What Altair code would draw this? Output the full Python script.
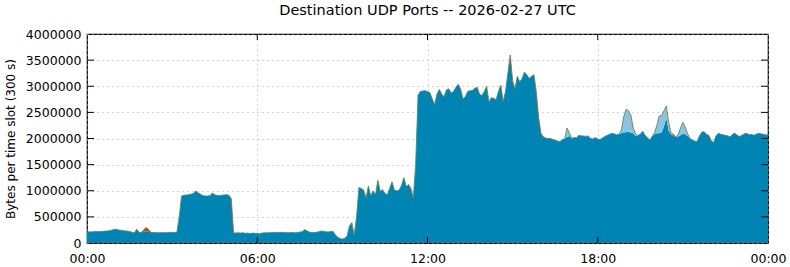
import altair as alt
import pandas as pd

# Main UDP port series (thousands of bytes per 5-minute slot), one row per hour
blue_k = [
    210, 215, 212, 218, 220, 222, 220, 225, 228, 232, 240, 255,
    265, 255, 245, 240, 232, 228, 222, 205, 190, 262, 205, 200,
    215, 218, 215, 205, 200, 200, 195, 198, 200, 195, 200, 205,
    200, 205, 200, 500, 900, 915, 920, 925, 935, 950, 995, 960,
    935, 905, 900, 900, 905, 955, 925, 910, 910, 915, 920, 925,
    915, 850, 195, 190, 195, 190, 195, 185, 190, 180, 190, 185,
    185, 175, 190, 195, 195, 195, 200, 200, 205, 200, 205, 200,
    200, 195, 200, 200, 195, 200, 210, 215, 255, 235, 210, 200,
    200, 205, 215, 230, 225, 215, 210, 220, 225, 160, 110, 85,
    75, 90, 130, 330, 360, 150, 500, 1060, 1045, 1014, 860, 1090,
    900, 1000, 920, 1200, 990, 1020, 950, 920, 1050, 1170, 1010, 1000,
    1010, 1100, 1250, 1080, 1120, 1040, 860, 1500, 2830, 2900, 2910, 2915,
    2900, 2880, 2760, 2650, 2850, 2940, 2850, 2800, 2930, 2950, 2870, 2900,
    2980, 3040, 2950, 2760, 2800, 2900, 2915, 2920, 2960, 2980, 2850, 2820,
    2900, 3000, 2700, 2780, 2770, 2740, 2900, 3020, 2710, 2900, 3250, 3600,
    3100, 2950, 3190, 3080, 3150, 3270, 3220, 3150, 3190, 3220, 2900, 2400,
    2100, 2030, 2010, 2000, 2000, 1980, 1970, 1950, 1940, 1980, 1990, 2030,
    2050, 2000, 2020, 2010, 2060, 2050, 2050, 2040, 2050, 2000, 1990, 2020,
    1990, 1980, 2010, 2040, 2060, 2080, 2100, 2090, 2070, 2080, 2100, 2120,
    2120, 2130, 2110, 2100, 2050, 2060, 2080, 2140, 2060, 2020, 1970, 2040,
    2080, 2100, 2100, 2110, 2230, 2390, 2150, 2080, 2050, 2030, 2040, 2060,
    2090, 2080, 2050, 2000, 1970, 1950, 1940, 2050, 2120, 2130, 2080, 2060,
    1960, 1920, 2050, 2100, 2080, 2070, 2060, 2050, 2030, 2080, 2100, 2060,
    2040, 2060, 2090, 2100, 2070, 2080, 2060, 2080, 2100, 2090, 2080, 2070,
    2070,
]

# Second port (light blue), thousands
lightblue_k = [
    0, 0, 0, 0, 0, 0, 0, 0, 0, 0, 0, 0,
    0, 0, 0, 0, 0, 0, 0, 0, 0, 0, 0, 0,
    0, 0, 0, 0, 0, 0, 0, 0, 0, 0, 0, 0,
    0, 0, 0, 0, 0, 0, 0, 0, 0, 0, 0, 0,
    0, 0, 0, 0, 0, 0, 0, 0, 0, 0, 0, 0,
    0, 0, 0, 0, 0, 0, 0, 0, 0, 0, 0, 0,
    0, 0, 0, 0, 0, 0, 0, 0, 0, 0, 0, 0,
    0, 0, 0, 0, 0, 0, 0, 0, 0, 0, 0, 0,
    0, 0, 0, 0, 0, 0, 0, 0, 0, 0, 0, 0,
    0, 0, 0, 0, 0, 0, 0, 0, 0, 0, 0, 0,
    0, 0, 0, 0, 0, 0, 0, 0, 0, 0, 0, 0,
    0, 0, 0, 0, 0, 0, 0, 0, 0, 0, 0, 0,
    0, 0, 0, 0, 0, 0, 0, 0, 0, 0, 0, 0,
    0, 0, 0, 0, 0, 0, 0, 0, 0, 0, 0, 0,
    0, 0, 0, 0, 0, 0, 0, 0, 0, 0, 0, 0,
    0, 0, 0, 0, 0, 0, 0, 0, 0, 0, 0, 0,
    0, 0, 0, 0, 0, 0, 0, 0, 0, 0, 0, 170,
    60, 0, 0, 0, 0, 0, 0, 0, 0, 0, 0, 0,
    0, 0, 0, 0, 0, 0, 0, 0, 0, 0, 60, 300,
    440, 400, 340, 100, 40, 0, 0, 0, 0, 0, 0, 0,
    30, 150, 330, 330, 300, 230, 150, 30, 0, 0, 40, 140,
    220, 140, 40, 0, 0, 0, 0, 0, 0, 0, 0, 0,
    0, 0, 0, 0, 0, 0, 0, 0, 0, 0, 0, 0,
    0, 0, 0, 0, 0, 0, 0, 0, 0, 0, 0, 0,
    0,
]

# Third port (red), thousands: only a few visible bumps
red_slots = [24, 25, 26, 112, 248]
red_vals_k = [40, 80, 45, 30, 30]

series_names = ["Port A", "Port B", "Port C"]
series_colors = ["#0084b4", "#8cc4e0", "#c8401a"]

x_tick_values = [0, 6, 12, 18, 24]
x_tick_labels = ["00:00", "06:00", "12:00", "18:00", "00:00"]
y_tick_values = [0, 500000, 1000000, 1500000, 2000000, 2500000, 3000000, 3500000, 4000000]

title_text = "Destination UDP Ports -- 2026-02-27 UTC"
y_title = "Bytes per time slot (300 s)"

n = len(blue_k)
red_k = [0] * n
for s, v in zip(red_slots, red_vals_k):
    red_k[s] = v

rows = []
tot = []
for i in range(n):
    h = i * 5 / 60.0
    vals = [blue_k[i], lightblue_k[i], red_k[i]]
    for j, name in enumerate(series_names):
        rows.append({"hour": h, "series": name, "order": j, "bytes": vals[j] * 1000})
    tot.append({"hour": h, "total": sum(vals) * 1000})
df = pd.DataFrame(rows)
dft = pd.DataFrame(tot)

W, H = 681, 209
xscale = alt.Scale(domain=[0, 24], nice=False, zero=False)
yscale = alt.Scale(domain=[0, 4000000], nice=False)

label_arr = "[" + ",".join("'" + s + "'" for s in x_tick_labels) + "]"

x_axis = alt.Axis(values=x_tick_values, labelExpr=label_arr + "[indexof(" + str(x_tick_values) + ", datum.value)]",
                  title=None, grid=True, gridColor="#a8a8a8", gridDash=[1, 4], gridWidth=1,
                  ticks=False, domain=False, labelFont="DejaVu Sans", labelFontSize=12.5,
                  labelColor="#000000", labelPadding=9, labelFlush=False, labelOverlap=False)
y_axis = alt.Axis(values=y_tick_values, format="d", title=y_title, titleFont="DejaVu Sans",
                  titleFontSize=12, titleFontWeight="normal", titleColor="#000000", titlePadding=8,
                  grid=True, gridColor="#a8a8a8", gridDash=[1, 4], gridWidth=1,
                  ticks=False, domain=False, labelFont="DejaVu Sans", labelFontSize=12.5,
                  labelColor="#000000", labelPadding=6, labelOverlap=False, labelBound=False)

areas = alt.Chart(df).mark_area(interpolate="linear").encode(
    x=alt.X("hour:Q", scale=xscale, axis=x_axis),
    y=alt.Y("bytes:Q", scale=yscale, axis=y_axis, stack="zero"),
    color=alt.Color("series:N", scale=alt.Scale(domain=series_names, range=series_colors), legend=None),
    order=alt.Order("order:Q", sort="ascending"),
)

outline = alt.Chart(dft).mark_line(color="#6e8050", strokeWidth=0.9, interpolate="linear").encode(
    x=alt.X("hour:Q", scale=xscale, axis=x_axis),
    y=alt.Y("total:Q", scale=yscale, axis=y_axis),
)

ydf = pd.DataFrame({"v": y_tick_values[1:-1]})
xdf = pd.DataFrame({"v": x_tick_values[1:-1]})
tick_l = alt.Chart(ydf).mark_rule(color="#000000", strokeWidth=1).encode(
    y=alt.Y("v:Q", scale=yscale, axis=y_axis), x=alt.value(0), x2=alt.value(7))
tick_r = alt.Chart(ydf).mark_rule(color="#000000", strokeWidth=1).encode(
    y=alt.Y("v:Q", scale=yscale, axis=y_axis), x=alt.value(W - 7), x2=alt.value(W))
tick_t = alt.Chart(xdf).mark_rule(color="#000000", strokeWidth=1).encode(
    x=alt.X("v:Q", scale=xscale, axis=x_axis), y=alt.value(0), y2=alt.value(6))
tick_b = alt.Chart(xdf).mark_rule(color="#000000", strokeWidth=1).encode(
    x=alt.X("v:Q", scale=xscale, axis=x_axis), y=alt.value(H - 6), y2=alt.value(H))

chart = alt.layer(areas, outline, tick_l, tick_r, tick_t, tick_b).properties(
    width=W, height=H,
    title=alt.TitleParams(title_text, font="DejaVu Sans", fontSize=14.5, fontWeight="normal",
                          color="#000000", anchor="middle", offset=10),
    autosize=alt.AutoSizeParams(type="none"),
    padding={"left": 87, "top": 34, "right": 22, "bottom": 24},
    background="#ffffff",
).configure_view(stroke="#000000", strokeWidth=1.2).configure_axis(labelOverlap=False)

chart.save("out.html", embed_options={"renderer": "svg", "actions": False})
